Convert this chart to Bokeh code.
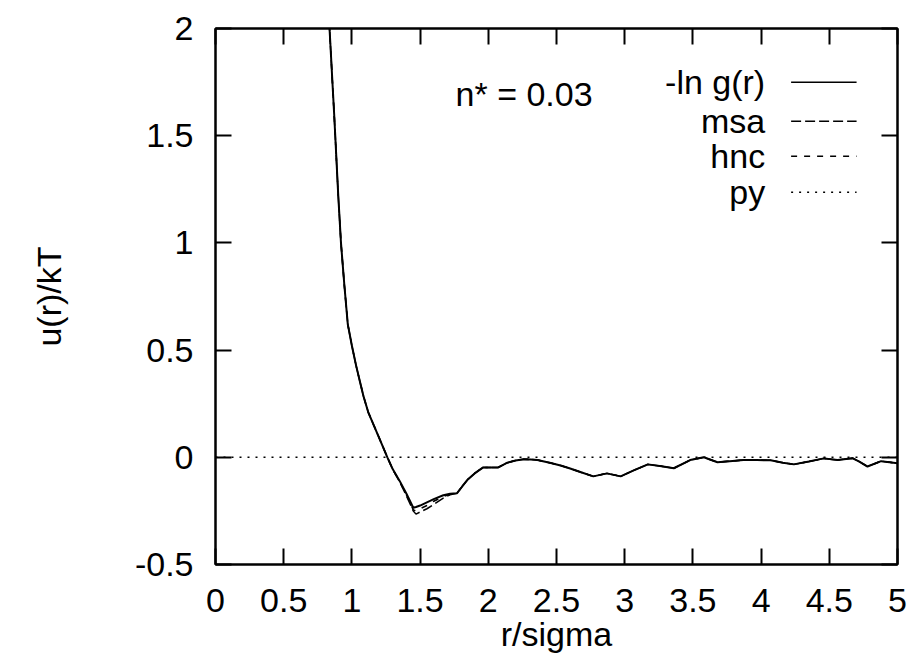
from bokeh.plotting import figure
from bokeh.models import Range1d, FixedTicker, LinearAxis, Label, Arrow
from bokeh.embed import file_html
from bokeh.resources import INLINE

# ---- data ----
r = [0.80, 0.836, 0.87, 0.90, 0.92, 0.945, 0.97, 1.0, 1.03, 1.06, 1.085, 1.12, 1.16,
     1.195, 1.23, 1.26, 1.30, 1.35, 1.40, 1.45, 1.47, 1.50, 1.55, 1.60, 1.67, 1.72, 1.77,
     1.81, 1.85, 1.90, 1.96, 2.02, 2.07, 2.14, 2.20, 2.26, 2.31, 2.36, 2.45, 2.53,
     2.60, 2.68, 2.77, 2.87, 2.97, 3.07, 3.17, 3.27, 3.36, 3.48, 3.58, 3.68, 3.77,
     3.87, 3.97, 4.07, 4.16, 4.24, 4.35, 4.46, 4.56, 4.67, 4.72, 4.78, 4.88, 5.0]

lng = [2.44, 2.0, 1.60, 1.22, 1.0, 0.80, 0.62, 0.52, 0.43, 0.35, 0.285, 0.21, 0.15,
       0.098, 0.045, 0.0, -0.056, -0.11, -0.17, -0.235, -0.232, -0.225, -0.21, -0.195,
       -0.177, -0.17, -0.168, -0.135, -0.103, -0.075, -0.048, -0.047, -0.048, -0.025,
       -0.015, -0.009, -0.010, -0.013, -0.025, -0.038, -0.052, -0.070, -0.089, -0.075,
       -0.089, -0.060, -0.033, -0.042, -0.051, -0.013, 0.0, -0.023, -0.018, -0.013,
       -0.013, -0.014, -0.025, -0.033, -0.020, -0.005, -0.013, -0.004, -0.020, -0.043,
       -0.018, -0.028]

msa = [2.44, 2.0, 1.60, 1.22, 1.0, 0.80, 0.62, 0.52, 0.43, 0.35, 0.285, 0.21, 0.15,
       0.098, 0.045, 0.0, -0.058, -0.115, -0.18, -0.25, -0.265, -0.255, -0.24, -0.22,
       -0.19, -0.175, -0.168, -0.135, -0.103, -0.075, -0.048, -0.047, -0.048, -0.025,
       -0.015, -0.009, -0.010, -0.013, -0.025, -0.038, -0.052, -0.070, -0.089, -0.075,
       -0.089, -0.060, -0.033, -0.042, -0.051, -0.013, 0.0, -0.023, -0.018, -0.013,
       -0.013, -0.014, -0.025, -0.033, -0.020, -0.005, -0.013, -0.004, -0.020, -0.043,
       -0.018, -0.028]

hnc = [2.44, 2.0, 1.60, 1.22, 1.0, 0.80, 0.62, 0.52, 0.43, 0.35, 0.285, 0.21, 0.15,
       0.098, 0.045, 0.0, -0.057, -0.112, -0.175, -0.245, -0.25, -0.24, -0.225, -0.205,
       -0.183, -0.172, -0.168, -0.135, -0.103, -0.075, -0.048, -0.047, -0.048, -0.025,
       -0.015, -0.009, -0.010, -0.013, -0.025, -0.038, -0.052, -0.070, -0.089, -0.075,
       -0.089, -0.060, -0.033, -0.042, -0.051, -0.013, 0.0, -0.023, -0.018, -0.013,
       -0.013, -0.014, -0.025, -0.033, -0.020, -0.005, -0.013, -0.004, -0.020, -0.043,
       -0.018, -0.028]

py_r = [0.0, 5.0]
py = [0.0, 0.0]

x_ticks = [0, 0.5, 1, 1.5, 2, 2.5, 3, 3.5, 4, 4.5, 5]
x_tick_labels = ["0", "0.5", "1", "1.5", "2", "2.5", "3", "3.5", "4", "4.5", "5"]
y_ticks = [-0.5, 0, 0.5, 1, 1.5, 2]
y_tick_labels = ["-0.5", "0", "0.5", "1", "1.5", "2"]

series_names = ["-ln g(r)", "msa", "hnc", "py"]
annotation_text = "n* = 0.03"

FONT = "Liberation Sans"
FS = "34px"

p = figure(width=910, height=662, output_backend="svg", toolbar_location=None,
           x_range=Range1d(0, 5), y_range=Range1d(-0.5, 2),
           min_border_left=215, min_border_right=13, min_border_top=28,
           min_border_bottom=98, background_fill_color="white",
           border_fill_color="white")
p.grid.visible = False
p.outline_line_color = "black"
p.outline_line_width = 2


def style_axis(ax, ticks, labels, show):
    ax.ticker = FixedTicker(ticks=ticks)
    ax.major_label_overrides = {t: (l if show else "") for t, l in zip(ticks, labels)}
    ax.major_tick_in = 16
    ax.major_tick_out = 0
    ax.minor_tick_line_color = None
    ax.major_tick_line_color = "black"
    ax.major_tick_line_width = 2
    ax.axis_line_color = "black"
    ax.axis_line_width = 2
    ax.major_label_text_font = FONT
    ax.major_label_text_color = "black"
    ax.axis_label_text_font = FONT
    ax.axis_label_text_font_size = FS
    ax.axis_label_text_font_style = "normal"
    ax.axis_label_text_color = "black"
    if show:
        ax.major_label_text_font_size = FS
    else:
        ax.major_label_text_font_size = "0px"
        ax.major_label_standoff = 0


xa = p.xaxis[0]
style_axis(xa, x_ticks, x_tick_labels, True)
xa.axis_label = "r/sigma"
xa.major_label_standoff = 24
xa.axis_label_standoff = 0

ya = p.yaxis[0]
style_axis(ya, y_ticks, y_tick_labels, True)
ya.axis_label = "u(r)/kT"
ya.major_label_standoff = 22
ya.axis_label_standoff = 64

top = LinearAxis()
style_axis(top, x_ticks, x_tick_labels, False)
p.add_layout(top, "above")
right = LinearAxis()
style_axis(right, y_ticks, y_tick_labels, False)
p.add_layout(right, "right")

p.line(py_r, py, line_color="black", line_width=1.5, line_dash="2 6")
p.line(r, hnc, line_color="black", line_width=1.5, line_dash="6 7")
p.line(r, msa, line_color="black", line_width=1.5, line_dash="10 4")
p.line(r, lng, line_color="black", line_width=2)

# legend in gnuplot style: right-aligned text, sample line to its right
dashes = ["solid", "10 4", "6 7", "2 6"]
rows = [1.749, 1.567, 1.404, 1.236]
for name, dash, yy in zip(series_names, dashes, rows):
    p.add_layout(Label(x=4.03, y=yy, text=name, text_align="right",
                       text_baseline="middle", text_font=FONT, text_font_size=FS,
                       text_color="black"))
    p.add_layout(Arrow(end=None, x_start=4.22, y_start=yy, x_end=4.70, y_end=yy,
                       line_color="black", line_width=1.5, line_dash=dash))

p.add_layout(Label(x=1.76, y=1.693, text=annotation_text, text_align="left",
                   text_baseline="middle", text_font=FONT, text_font_size=FS,
                   text_color="black"))

open("out.html", "w").write(file_html(p, INLINE))
